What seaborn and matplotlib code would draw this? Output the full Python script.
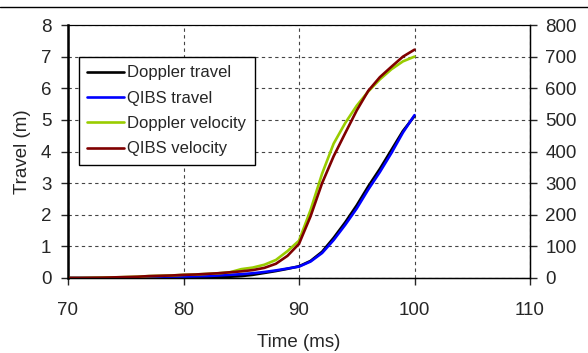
import numpy as np
import pandas as pd
import matplotlib
matplotlib.use("Agg")
import matplotlib.pyplot as plt
from matplotlib.lines import Line2D
import seaborn as sns

# time axis (ms)
time_ms = list(range(70, 101))

# travel (m), left axis
doppler_travel = [0, 0, 0, 0, 0, 0, 0, 0, 0, 0, 0,
                  0.01, 0.02, 0.03, 0.04, 0.06, 0.10, 0.16, 0.22, 0.29, 0.37,
                  0.54, 0.83, 1.27, 1.76, 2.30, 2.90, 3.45, 4.05, 4.65, 5.12]
qibs_travel = [0, 0, 0, 0, 0, 0, 0, 0.01, 0.02, 0.03, 0.04,
               0.05, 0.06, 0.08, 0.10, 0.12, 0.15, 0.19, 0.24, 0.30, 0.36,
               0.52, 0.79, 1.20, 1.68, 2.20, 2.80, 3.35, 3.95, 4.60, 5.15]

# velocity (m/s), right axis
doppler_velocity = [0, 0, 0.5, 1, 2, 3, 4, 6, 7, 8, 10,
                    11, 13, 15, 18, 28, 33, 42, 57, 85, 118,
                    215, 330, 425, 490, 545, 590, 628, 660, 685, 700]
qibs_velocity = [0, 0, 0.5, 1, 2, 3, 4, 6, 7, 8, 10,
                 11, 13, 15, 18, 21, 25, 32, 45, 70, 108,
                 195, 300, 385, 458, 530, 592, 635, 668, 700, 722]

x_ticks = [70, 80, 90, 100, 110]
left_ticks = list(range(0, 9))
right_ticks = list(range(0, 801, 100))

sns.set_style("white")
plt.rcParams['font.family'] = ['Liberation Sans', 'DejaVu Sans']

fig = plt.figure(figsize=(5.88, 3.53), dpi=100)
ax = fig.add_axes([68 / 588, 75 / 353, 462 / 588, 253 / 353])
ax2 = ax.twinx()

sns.lineplot(x=time_ms, y=doppler_travel, ax=ax, color="black", lw=1.9, label="Doppler travel", legend=False)
sns.lineplot(x=time_ms, y=qibs_travel, ax=ax, color="#0000FF", lw=1.9, label="QIBS travel", legend=False)
sns.lineplot(x=time_ms, y=doppler_velocity, ax=ax2, color="#99CC00", lw=1.9, label="Doppler velocity", legend=False)
sns.lineplot(x=time_ms, y=qibs_velocity, ax=ax2, color="#800000", lw=1.9, label="QIBS velocity", legend=False)

ax.set_xlim(70, 110)
ax.set_ylim(0, 8)
ax2.set_ylim(0, 800)
ax.set_xticks(x_ticks)
ax.set_yticks(left_ticks)
ax2.set_yticks(right_ticks)

ax.grid(True, color="#444444", linestyle=(0, (3, 3)), linewidth=0.8)
ax2.grid(False)

for s in ["left", "right", "top", "bottom"]:
    ax.spines[s].set_visible(True)
    ax.spines[s].set_color("black")
    ax2.spines[s].set_color("black")
ax.spines["left"].set_linewidth(1.8)
ax.spines["bottom"].set_linewidth(1.0)
ax.spines["top"].set_linewidth(0.8)
ax2.spines["right"].set_linewidth(1.0)
ax2.spines["top"].set_linewidth(0.8)

ax.tick_params(axis="x", direction="out", length=5, width=1, pad=12, labelsize=13.5, bottom=True)
ax.tick_params(axis="y", direction="out", length=5, width=1, pad=7, labelsize=13.5, left=True)
ax2.tick_params(axis="y", direction="out", length=5, width=1, pad=6, labelsize=13.5, right=True)

ax.set_xlabel("Time (ms)", fontsize=13.5, labelpad=11)
ax.set_ylabel("Travel (m)", fontsize=13.5, labelpad=7)
ax2.set_ylabel("")

handles = [h for h in ax.get_lines() if not h.get_label().startswith("_")] + \
          [h for h in ax2.get_lines() if not h.get_label().startswith("_")]
leg = ax2.legend(handles=handles, loc="upper left", bbox_to_anchor=(0.024, 0.873),
                 fontsize=12, frameon=True, fancybox=False, framealpha=1,
                 edgecolor="black", handlelength=2.2, handletextpad=0.2,
                 labelspacing=0.62, borderpad=0.5, borderaxespad=0)
leg.get_frame().set_linewidth(1.0)

fig.add_artist(Line2D([0, 1], [1 - 7 / 353, 1 - 7 / 353], transform=fig.transFigure,
                      color="black", lw=1.0))

fig.savefig("out.png", dpi=100)
